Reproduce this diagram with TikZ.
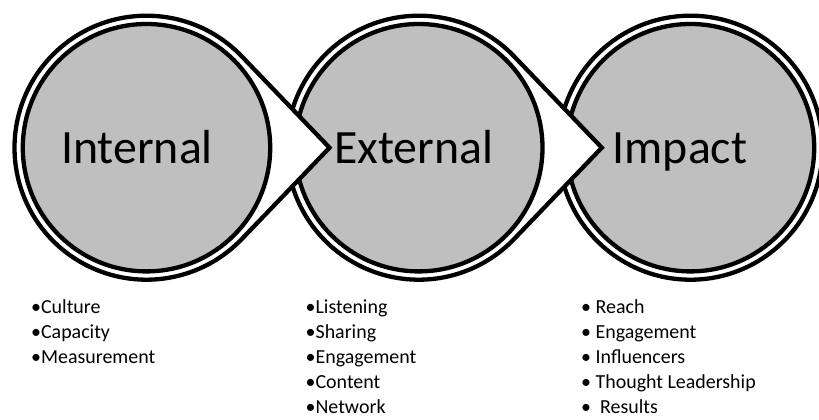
\documentclass[tikz,border=0pt]{standalone}
\usepackage{fontspec}
\setmainfont{Carlito}
\usepackage{tikz}
\definecolor{discgray}{RGB}{191,191,191}

\begin{document}
\begin{tikzpicture}[x=1bp,y=1bp,
  ringshape/.style={draw=black,fill=white,line width=4.3bp,line join=miter},
  disc/.style={circle,draw=black,fill=discgray,line width=4.3bp,minimum size=247.4bp,inner sep=0pt},
  bigtext/.style={anchor=base west,inner sep=0pt,font=\fontsize{48}{58}\selectfont},
  item/.style={anchor=base west,inner sep=0pt,font=\fontsize{20}{25}\selectfont}]
\useasboundingbox (0,0) rectangle (819,419);
\clip (0,0) rectangle (819,419);
\coordinate (c1) at (146.5,271.3);
\coordinate (c2) at (418.8,271.3);
\coordinate (c3) at (690.5,271.3);
% last one has no tip, just the outer ring
\draw[ringshape] (c3) circle[radius=132];
\node[disc] (imp) at (c3) {};
% shapes drawn right to left so each tip lies over the next disc
\foreach \c/\n in {c2/ext,c1/int}{
  \coordinate (tip-\n) at ([xshift=183bp]\c);
  \draw[ringshape] (tip-\n) -- ([shift={(43.8:132)}]\c) arc[start angle=43.8,end angle=316.2,radius=132] -- cycle;
  \node[disc] (\n) at (\c) {};
}
\node[bigtext] (int-t) at (61,255.5) {Internal};
\node[bigtext] (ext-t) at (334,256) {External};
\node[bigtext] (imp-t) at (612.5,256) {Impact};
% bullet lists
\foreach \t [count=\i] in {Culture,Capacity,Measurement}
  \node[item] (int-\i) at (31,{106-25*(\i-1)}) {•\t};
\foreach \t [count=\i] in {Listening,Sharing,Engagement,Content,Network}
  \node[item] (ext-\i) at (305.5,{106-25*(\i-1)}) {•\t};
\foreach \t [count=\i] in {Reach,Engagement,Influencers,Thought Leadership}
  \node[item] (imp-\i) at (581,{106-25*(\i-1)}) {• \t};
\node[item] (imp-5) at (581,6) {•\ \ Results};
\end{tikzpicture}
\end{document}
